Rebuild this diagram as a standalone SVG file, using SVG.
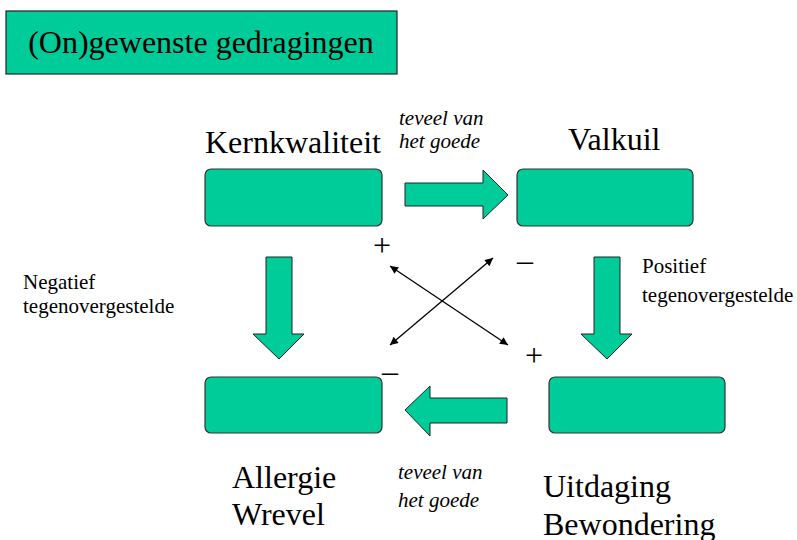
<svg xmlns="http://www.w3.org/2000/svg" width="797" height="540" viewBox="0 0 797 540" font-family="Liberation Serif, Times New Roman, serif">
<defs>
<style>
.box{fill:#00CC99;stroke:#333;stroke-width:1.2}
.arr{fill:#00CC99;stroke:#222;stroke-width:1}
text{font-family:"Liberation Serif","Times New Roman",serif}
.big{font-size:32px;fill:#000}
.small{font-size:21px;fill:#000}
.it{font-size:21px;font-style:italic;fill:#000}
.sign{font-size:32px;fill:#000;text-anchor:middle}
.x{stroke:#000;stroke-width:1.3;fill:none;marker-start:url(#ah);marker-end:url(#ah)}
</style>
<marker id="ah" viewBox="0 0 10 10" refX="10" refY="5" markerWidth="10" markerHeight="8" markerUnits="userSpaceOnUse" orient="auto-start-reverse">
<path d="M0,0 L10,5 L0,10 z" fill="#000"/>
</marker>
</defs>
<rect width="797" height="540" fill="#fff"/>
<g id="title">
<rect x="6" y="11" width="391" height="63" fill="#00CC99" stroke="#222" stroke-width="1.2"/>
<text class="big" x="201" y="53" text-anchor="middle">(On)gewenste gedragingen</text>
</g>
<g id="kernkwaliteit">
<rect class="box" x="205" y="169" width="177" height="57" rx="6"/>
<text class="big" x="205" y="153">Kernkwaliteit</text>
</g>
<g id="valkuil">
<rect class="box" x="517" y="169" width="176" height="57" rx="6"/>
<text class="big" x="568" y="150">Valkuil</text>
</g>
<g id="allergie">
<rect class="box" x="205" y="377" width="177" height="56" rx="6"/>
<text class="big" x="232" y="488">Allergie</text>
<text class="big" x="232" y="525">Wrevel</text>
</g>
<g id="uitdaging">
<rect class="box" x="549" y="377" width="176" height="56" rx="6"/>
<text class="big" x="543" y="497">Uitdaging</text>
<text class="big" x="543" y="535">Bewondering</text>
</g>
<g id="connectors">
<polygon class="arr" points="405,183 483,183 483,170 508,195 483,219 483,206 405,206"/>
<polygon class="arr" points="507,398 430,398 430,386 405,410 430,436 430,423 507,423"/>
<polygon class="arr" points="266,257 292,257 292,334 304,334 279,359 253,334 266,334"/>
<polygon class="arr" points="594,257 620,257 620,334 632,334 607,359 581,334 594,334"/>
<line class="x" x1="390" y1="266" x2="508" y2="345"/>
<line class="x" x1="493" y1="258" x2="390" y2="345"/>
</g>
<g id="labels">
<text class="it" x="399" y="125">teveel van</text>
<text class="it" x="399" y="148">het goede</text>
<text class="it" x="398" y="479">teveel van</text>
<text class="it" x="398" y="507">het goede</text>
<text class="small" x="23" y="289">Negatief</text>
<text class="small" x="23" y="313">tegenovergestelde</text>
<text class="small" x="642" y="273">Positief</text>
<text class="small" x="642" y="302">tegenovergestelde</text>
<text class="sign" x="382" y="256">+</text>
<text class="sign" x="525" y="271">–</text>
<text class="sign" x="534" y="366">+</text>
<text class="sign" x="390" y="382">–</text>
</g>
</svg>
